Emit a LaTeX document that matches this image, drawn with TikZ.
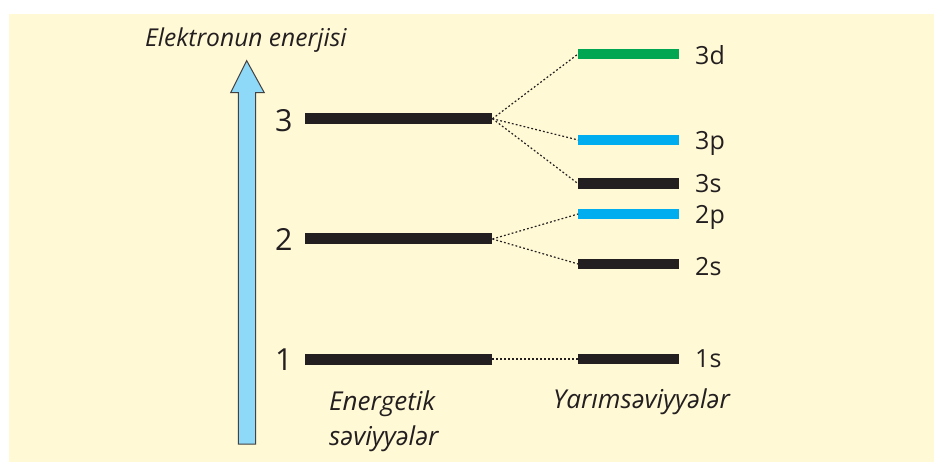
\documentclass[tikz,border=0pt]{standalone}
\usepackage{fontspec}
\setmainfont{Open Sans}
\definecolor{bgyellow}{HTML}{FFF9D5}
\definecolor{barblack}{HTML}{231F20}
\definecolor{bargreen}{HTML}{00A651}
\definecolor{barcyan}{HTML}{00AEEF}
\definecolor{arrowblue}{HTML}{8ED8F8}
\definecolor{txt}{HTML}{231F20}
\tikzset{
  mainbar/.style={rectangle, inner sep=0pt, minimum width=187.3pt, minimum height=11pt, fill=barblack},
  subbar/.style={rectangle, inner sep=0pt, minimum width=101pt, minimum height=10.5pt, fill=#1},
  conn/.style={draw=barblack, line width=1.2pt, dash pattern=on 1.8pt off 2.2pt},
  numlab/.style={anchor=base west, inner sep=0pt, text=txt, font=\fontsize{30.4}{36}\selectfont},
  sublab/.style={anchor=base west, inner sep=0pt, text=txt, font=\fontsize{25}{30}\selectfont},
  itlab/.style={anchor=base west, inner sep=0pt, text=txt, font=\fontsize{26}{30}\selectfont\itshape},
}
\begin{document}
\begin{tikzpicture}[x=1pt,y=-1pt]
\useasboundingbox (0,0) rectangle (934,462);
\fill[bgyellow] (9,14) rectangle (934,462);
% energy arrow
\draw[fill=arrowblue, draw=barblack!85, line width=1pt, line join=miter]
  (238.3,444) -- (238.3,92.7) -- (230.7,92.7) -- (246.7,60.7) -- (264.3,92.7)
  -- (255.7,92.7) -- (255.7,444) -- cycle;
\node[itlab, font=\fontsize{24.6}{30}\selectfont\itshape] (title) at (145,46.7) {Elektronun enerjisi};
% main levels
\node[mainbar] (L3) at (398.6,118.7) {};
\node[mainbar] (L2) at (398.6,239) {};
\node[mainbar] (L1) at (398.6,359) {};
\node[numlab] (n3) at (275,131.7) {3};
\node[numlab] (n2) at (275,250.7) {2};
\node[numlab] (n1) at (275,370) {1};
% sublevels
\node[subbar=bargreen] (s3d) at (628.8,54) {};
\node[subbar=barcyan] (s3p) at (628.8,140) {};
\node[subbar=barblack] (s3s) at (628.8,183.7) {};
\node[subbar=barcyan] (s2p) at (628.8,214) {};
\node[subbar=barblack] (s2s) at (628.8,264) {};
\node[subbar=barblack] (s1s) at (628.8,359) {};
\node[sublab] (t3d) at (695,65) {3d};
\node[sublab] (t3p) at (695,150) {3p};
\node[sublab] (t3s) at (695,192.3) {3s};
\node[sublab] (t2p) at (695,224) {2p};
\node[sublab] (t2s) at (695,275.7) {2s};
\node[sublab] (t1s) at (695,367.3) {1s};
% connectors
\draw[conn] (L3.east) -- (s3d.west);
\draw[conn] (L3.east) -- (s3p.west);
\draw[conn] (L3.east) -- (s3s.west);
\draw[conn] (L2.east) -- (s2p.west);
\draw[conn] (L2.east) -- (s2s.west);
\draw[conn] (L1.east) -- (s1s.west);
% captions
\node[itlab] (cap1) at (329,410.7) {Energetik};
\node[itlab] (cap2) at (329,445) {səviyyələr};
\node[itlab] (cap3) at (553,408.3) {Yarımsəviyyələr};
\end{tikzpicture}
\end{document}
